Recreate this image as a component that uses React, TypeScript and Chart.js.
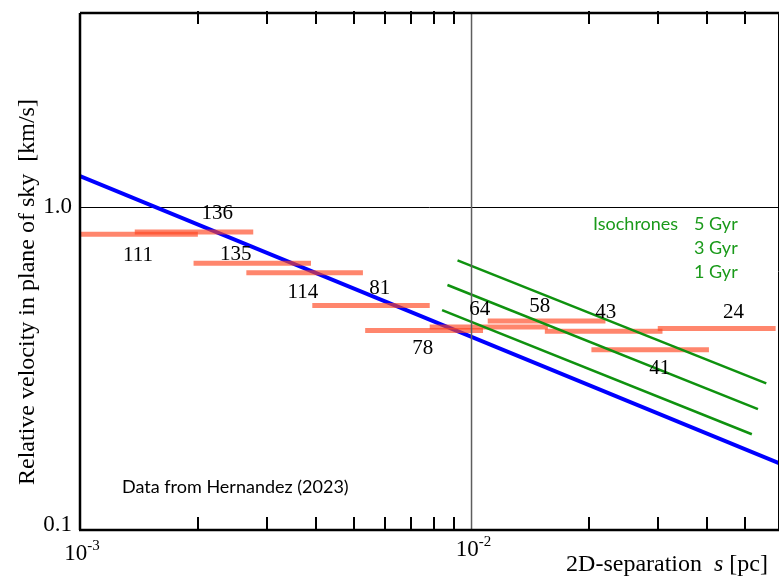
import React, { useEffect, useRef } from "react";
import { Chart, registerables } from "chart.js";

Chart.register(...registerables);

// ---- Data ----
const binCounts = ["111", "136", "135", "114", "81", "78", "64", "58", "43", "41", "24"];
const binStart = [0.001, 0.00138, 0.00195, 0.00266, 0.00392, 0.00535, 0.00782, 0.011, 0.01539, 0.02024, 0.0299];
const binEnd = [0.002, 0.00277, 0.00389, 0.00528, 0.00782, 0.0107, 0.01567, 0.02198, 0.03074, 0.0404, 0.0598];
const binVelocity = [0.825, 0.839, 0.671, 0.627, 0.496, 0.415, 0.426, 0.444, 0.413, 0.362, 0.421];
const labelS = [0.001406, 0.00224, 0.0025, 0.00371, 0.00583, 0.00751, 0.0105, 0.01494, 0.02203, 0.03025, 0.0467];
const labelV = [0.71, 0.958, 0.715, 0.5455, 0.5614, 0.366, 0.483, 0.494, 0.473, 0.3175, 0.473];

const newtonS = [0.001, 0.061];
const newtonV = [1.25, 0.161];

const iso5S = [0.00921, 0.0566];
const iso5V = [0.685, 0.2845];
const iso3S = [0.00868, 0.0539];
const iso3V = [0.5745, 0.237];
const iso1S = [0.00841, 0.052];
const iso1V = [0.48, 0.198];

const isoNames = ["5 Gyr", "3 Gyr", "1 Gyr"];

const xMin = 0.001;
const xMax = 0.061;
const yMin = 0.1;
const yMax = 4;
const xMinorTicks = [0.002, 0.003, 0.004, 0.005, 0.006, 0.007, 0.008, 0.009, 0.02, 0.03, 0.04, 0.05];
const xMajorTicks = [0.001, 0.01];
const xMajorExp = ["-3", "-2"];
const yTicks = [1, 0.1];
const yTickLabels = ["1.0", "0.1"];

const SERIF = '"Liberation Serif", "DejaVu Serif", serif';
const SANS = 'Lato, "Open Sans", "Liberation Sans", sans-serif';

const pts = (xs: number[], ys: number[]) => xs.map((x, i) => ({ x, y: ys[i] }));

export default function App() {
  const ref = useRef<HTMLCanvasElement | null>(null);

  useEffect(() => {
    document.body.style.margin = "0";
    const canvas = ref.current;
    if (!canvas) return;

    const datasets: any[] = [];
    datasets.push({
      data: pts(newtonS, newtonV),
      borderColor: "#0000ff",
      borderWidth: 4,
      order: 3,
    });
    binStart.forEach((s, i) => {
      datasets.push({
        data: [
          { x: s, y: binVelocity[i] },
          { x: binEnd[i], y: binVelocity[i] },
        ],
        borderColor: "rgba(255,69,30,0.65)",
        borderWidth: 5,
        borderCapStyle: "butt",
        order: 2,
      });
    });
    [pts(iso5S, iso5V), pts(iso3S, iso3V), pts(iso1S, iso1V)].forEach((d) => {
      datasets.push({ data: d, borderColor: "#0f920f", borderWidth: 2.5, order: 1 });
    });
    datasets.forEach((d) => {
      d.showLine = true;
      d.pointRadius = 0;
      d.pointHoverRadius = 0;
      d.fill = false;
      d.tension = 0;
    });

    const decor = {
      id: "decor",
      beforeDatasetsDraw(chart: any) {
        const { ctx, chartArea: a, scales } = chart;
        const ys = scales.y;
        ctx.save();
        ctx.strokeStyle = "#000";
        ctx.lineWidth = 1;
        const y1 = Math.round(ys.getPixelForValue(1)) + 0.5;
        ctx.beginPath();
        ctx.moveTo(a.left, y1);
        ctx.lineTo(a.right, y1);
        ctx.stroke();
        ctx.restore();
      },
      afterDatasetsDraw(chart: any) {
        const { ctx, chartArea: a, scales } = chart;
        const xs = scales.x;
        const ys = scales.y;
        ctx.save();
        // vertical 10^-2 line
        ctx.strokeStyle = "#5e5e5e";
        ctx.lineWidth = 1.5;
        const x2 = xs.getPixelForValue(0.01);
        ctx.beginPath();
        ctx.moveTo(x2, a.top);
        ctx.lineTo(x2, a.bottom);
        ctx.stroke();

        // frame
        ctx.strokeStyle = "#000";
        ctx.lineWidth = 1;
        ctx.beginPath();
        ctx.moveTo(a.right - 0.5, a.top);
        ctx.lineTo(a.right - 0.5, a.bottom);
        ctx.stroke();
        ctx.lineWidth = 2.5;
        ctx.beginPath();
        ctx.moveTo(a.left, a.top);
        ctx.lineTo(a.right, a.top);
        ctx.moveTo(a.left, a.top);
        ctx.lineTo(a.left, a.bottom);
        ctx.moveTo(a.left - 1, a.bottom);
        ctx.lineTo(a.right, a.bottom);
        ctx.stroke();

        // minor ticks top and bottom
        ctx.lineWidth = 2;
        ctx.beginPath();
        xMinorTicks.forEach((v) => {
          const px = Math.round(xs.getPixelForValue(v));
          ctx.moveTo(px, a.bottom);
          ctx.lineTo(px, a.bottom - 13);
          ctx.moveTo(px, a.top - 2);
          ctx.lineTo(px, a.top + 11);
        });
        ctx.stroke();

        // y tick labels
        ctx.fillStyle = "#000";
        ctx.font = `23px ${SERIF}`;
        ctx.textAlign = "right";
        ctx.textBaseline = "middle";
        yTicks.forEach((v, i) => {
          let py = ys.getPixelForValue(v);
          if (py > a.bottom - 6) py = a.bottom - 5;
          ctx.fillText(yTickLabels[i], a.left - 8, py);
        });

        // x tick labels 10^n
        ctx.textBaseline = "alphabetic";
        xMajorTicks.forEach((v, i) => {
          const px = xs.getPixelForValue(v);
          ctx.font = `23px ${SERIF}`;
          const w1 = ctx.measureText("10").width;
          ctx.font = `15px ${SERIF}`;
          const w2 = ctx.measureText(xMajorExp[i]).width;
          const start = px - (w1 + w2) / 2 + 2;
          const base = a.bottom + (i === 0 ? 30 : 26);
          ctx.textAlign = "left";
          ctx.font = `23px ${SERIF}`;
          ctx.fillText("10", start, base);
          ctx.font = `15px ${SERIF}`;
          ctx.fillText(xMajorExp[i], start + w1, base - 10);
        });

        // x axis title
        ctx.textAlign = "left";
        const t1 = "2D-separation  ";
        const t2 = "s";
        const t3 = " [pc]";
        ctx.font = `24px ${SERIF}`;
        const w1 = ctx.measureText(t1).width;
        const w3 = ctx.measureText(t3).width;
        ctx.font = `italic 24px ${SERIF}`;
        const w2 = ctx.measureText(t2).width;
        const endX = 768;
        const startX = endX - (w1 + w2 + w3);
        const by = 571;
        ctx.font = `24px ${SERIF}`;
        ctx.fillText(t1, startX, by);
        ctx.font = `italic 24px ${SERIF}`;
        ctx.fillText(t2, startX + w1, by);
        ctx.font = `24px ${SERIF}`;
        ctx.fillText(t3, startX + w1 + w2, by);

        // y axis title
        ctx.save();
        ctx.translate(28, 292);
        ctx.rotate(-Math.PI / 2);
        ctx.textAlign = "center";
        ctx.textBaseline = "middle";
        ctx.font = `24px ${SERIF}`;
        ctx.fillText("Relative velocity in plane of sky  [km/s]", 0, 0);
        ctx.restore();

        // bin count labels
        ctx.font = `21px ${SERIF}`;
        ctx.textAlign = "center";
        ctx.textBaseline = "middle";
        binCounts.forEach((t, i) => {
          ctx.fillText(t, xs.getPixelForValue(labelS[i]), ys.getPixelForValue(labelV[i]));
        });

        // isochrone legend text
        ctx.fillStyle = "#1a9a1a";
        ctx.font = `18px ${SANS}`;
        ctx.textAlign = "left";
        ctx.fillText("Isochrones", 593, 224);
        isoNames.forEach((n, i) => {
          ctx.fillText(n, 694, 224 + i * 24);
        });

        // source note
        ctx.fillStyle = "#000";
        ctx.fillText("Data from Hernandez (2023)", 122, 487);

        ctx.restore();
      },
    };

    const chart = new Chart(canvas, {
      type: "scatter",
      data: { datasets },
      options: {
        animation: false,
        responsive: false,
        maintainAspectRatio: false,
        events: [],
        layout: { padding: { left: 80, top: 13, right: 0, bottom: 46 } },
        plugins: { legend: { display: false }, tooltip: { enabled: false } },
        scales: {
          x: { type: "logarithmic", min: xMin, max: xMax, display: false },
          y: { type: "logarithmic", min: yMin, max: yMax, display: false },
        },
      },
      plugins: [decor],
    } as any);

    return () => chart.destroy();
  }, []);

  return (
    <div style={{ width: 779, height: 576, background: "#fff" }}>
      <canvas ref={ref} width={779} height={576} style={{ display: "block", width: 779, height: 576 }} />
    </div>
  );
}
